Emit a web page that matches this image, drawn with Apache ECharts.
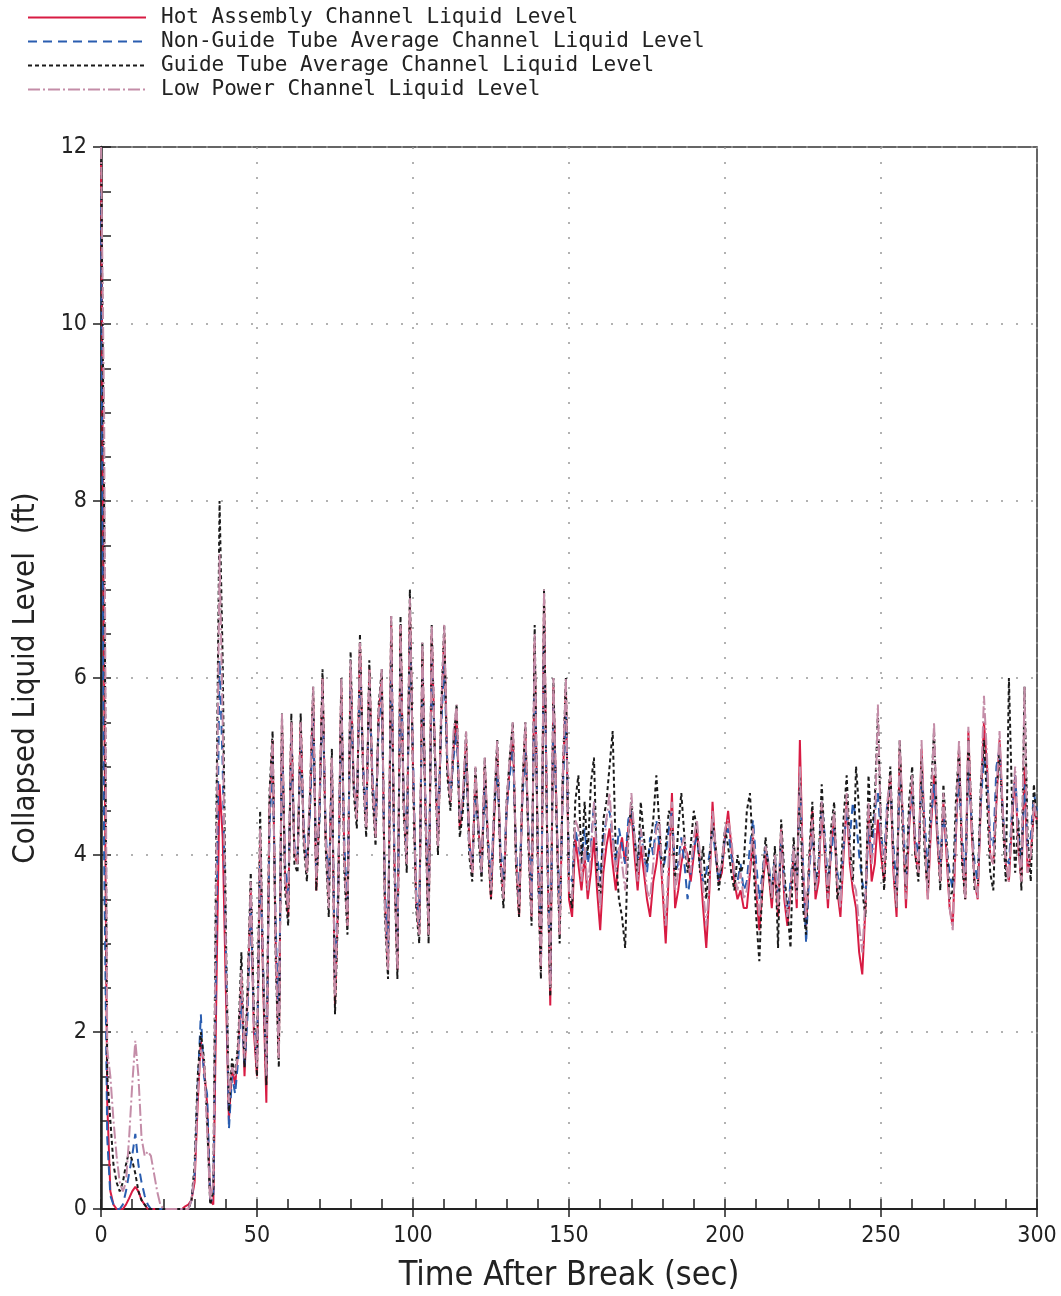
<!DOCTYPE html>
<html>
<head>
<meta charset="utf-8">
<script src="https://cdn.jsdelivr.net/npm/echarts@6/dist/echarts.min.js"></script>
<style>
html,body{margin:0;padding:0;background:#fff;}
#chart{width:1061px;height:1296px;}
</style>
</head>
<body>
<div id="chart"></div>
<script>
// Time after break (sec), one sample per second 0..300
const time = Array.from({length: 301}, (_, i) => i);

const seriesNames = [
  'Hot Assembly Channel Liquid Level',
  'Non-Guide Tube Average Channel Liquid Level',
  'Guide Tube Average Channel Liquid Level',
  'Low Power Channel Liquid Level'
];

const xTicks = [0, 50, 100, 150, 200, 250, 300];
const yTicks = [0, 2, 4, 6, 8, 10, 12];

// Hot Assembly Channel Liquid Level (ft)
const hotLevel = [
11.8,6.0,1.2,0.2,0.05,0,0,0,0.05,0.12,
0.2,0.25,0.2,0.1,0.05,0,0,0,0,0,
0,0,0,0,0,0,0,0.03,0.05,0.1,
0.3,1.2,1.9,1.6,1.2,0.1,0.05,2.5,4.8,4.2,
2.5,1.0,1.6,1.4,1.8,2.6,1.5,2.4,3.6,2.0,
1.5,4.2,2.5,1.2,4.5,5.3,3.0,1.7,5.5,3.8,
3.3,5.5,4.0,3.9,5.5,4.2,3.8,4.6,5.8,3.6,
4.5,6.0,4.2,3.5,5.1,2.3,3.5,5.9,4.0,3.2,
6.1,4.8,4.4,6.4,5.0,4.3,6.1,4.8,4.2,5.6,
6.0,3.5,2.7,6.6,4.0,2.7,6.6,4.6,3.9,6.8,
5.0,3.5,3.1,6.3,4.5,3.1,6.5,5.2,4.1,5.5,
6.5,5.0,4.6,5.2,5.6,4.3,4.6,5.3,4.2,3.8,
4.9,4.3,3.8,5.0,4.2,3.5,4.4,5.2,4.0,3.5,
4.5,5.0,5.4,4.0,3.3,4.6,5.4,4.2,3.3,6.4,
4.0,2.7,6.9,4.2,2.3,5.9,4.5,3.1,4.8,5.9,
3.5,3.3,4.2,3.9,3.6,4.0,3.5,3.8,4.2,3.6,
3.15,3.8,4.1,4.3,3.9,3.6,4.0,4.2,3.9,4.3,
4.5,4.0,3.6,4.1,3.8,3.5,3.3,3.7,3.9,4.2,
3.6,3.0,3.8,4.7,3.4,3.6,3.9,4.1,4.0,3.7,
4.0,4.3,3.9,3.4,2.95,3.6,4.6,4.0,3.7,3.8,
4.2,4.5,4.1,3.7,3.5,3.6,3.4,3.4,3.8,4.2,
3.6,3.15,3.6,4.0,3.8,3.4,3.9,3.3,4.3,3.5,
3.2,3.6,4.0,3.4,5.3,3.8,3.2,3.9,4.5,3.5,
3.7,4.6,4.0,3.4,4.1,4.4,3.6,3.3,4.0,4.6,
3.9,3.6,3.4,2.9,2.65,3.4,4.5,3.7,3.9,4.4,
4.0,3.7,4.5,4.9,3.8,3.3,5.2,4.4,3.4,4.3,
4.8,4.0,3.8,5.2,4.2,3.5,4.3,4.9,4.2,3.7,
4.6,4.0,3.4,3.2,4.2,5.2,4.0,3.5,5.4,4.3,
3.7,3.5,4.6,5.5,5.0,4.0,3.9,4.6,5.3,4.5,
3.9,3.7,4.4,4.9,4.1,3.7,5.0,3.8,4.0,4.5,
4.4
];

// Non-Guide Tube Average Channel Liquid Level (ft)
const nonGuideLevel = [
11.5,4.0,0.8,0.15,0.05,0,0,0.05,0.2,0.4,
0.6,0.85,0.5,0.3,0.15,0.05,0,0,0,0,
0,0,0,0,0,0,0,0,0,0.1,
0.4,1.4,2.2,1.5,1.3,0.1,0.1,3.2,6.2,5.0,
3.0,0.9,1.5,1.3,1.7,2.4,1.6,2.2,3.5,2.1,
1.7,4.0,2.7,1.5,4.3,5.1,3.2,2.0,5.3,3.9,
3.5,5.3,4.1,4.0,5.3,4.3,3.9,4.5,5.6,3.8,
4.4,5.8,4.3,3.6,5.0,2.6,3.6,5.7,4.1,3.4,
5.9,4.8,4.5,6.1,5.0,4.4,5.9,4.9,4.3,5.5,
5.8,3.6,2.9,6.3,4.1,2.9,6.3,4.7,4.0,6.5,
5.1,3.6,3.2,6.1,4.6,3.3,6.2,5.2,4.2,5.4,
6.2,5.0,4.7,5.1,5.4,4.4,4.6,5.1,4.1,3.9,
4.7,4.3,3.8,4.8,4.2,3.7,4.5,5.0,4.1,3.7,
4.5,4.9,5.2,4.1,3.5,4.6,5.2,4.3,3.5,6.2,
4.1,2.9,6.6,4.3,2.6,5.7,4.5,3.3,4.7,5.7,
3.8,3.7,4.3,4.1,3.9,4.3,3.9,4.1,4.6,4.0,
3.7,4.2,4.4,4.5,4.2,3.9,4.3,4.1,3.9,4.4,
4.5,4.2,3.9,4.3,4.0,3.8,4.2,4.0,4.4,4.1,
3.8,4.0,4.3,4.5,3.8,3.9,4.2,3.9,3.5,3.8,
4.1,4.2,3.9,3.7,3.8,4.0,4.3,4.0,3.7,3.9,
4.2,4.3,4.0,3.8,3.7,3.9,3.6,3.7,4.1,4.4,
3.9,3.5,3.8,4.1,3.9,3.6,4.0,3.5,4.2,3.7,
3.3,3.7,4.1,3.6,4.8,3.9,3.0,3.8,4.3,3.7,
3.9,4.6,4.2,3.7,4.0,4.3,3.8,3.6,4.1,4.5,
4.2,4.6,4.4,4.0,3.7,3.5,4.3,4.0,4.5,4.7,
4.2,4.0,4.6,4.8,4.1,3.6,4.9,4.5,3.7,4.4,
4.7,4.2,4.0,4.9,4.4,3.8,4.4,4.8,4.3,3.9,
4.5,4.1,3.8,3.6,4.3,4.9,4.2,3.8,5.0,4.4,
3.9,3.7,4.6,5.1,4.9,4.2,4.1,5.0,5.2,4.5,
4.0,3.9,4.5,4.9,4.3,3.9,4.8,4.1,4.2,4.7,
4.5
];

// Guide Tube Average Channel Liquid Level (ft)
const guideLevel = [
12.0,8.0,1.5,1.0,0.5,0.3,0.2,0.3,0.5,0.65,
0.55,0.4,0.2,0.1,0.05,0,0,0,0,0,
0,0,0,0,0,0,0,0,0,0.1,
0.5,1.5,2.0,1.7,1.0,0.05,0.2,4.5,8.0,6.2,
3.2,1.1,1.7,1.5,1.9,2.9,1.6,2.5,3.8,2.2,
1.5,4.5,2.6,1.4,4.7,5.4,2.8,1.6,5.6,3.6,
3.2,5.6,3.9,3.8,5.6,4.1,3.7,4.7,5.9,3.6,
4.4,6.1,4.1,3.3,5.2,2.2,3.4,6.0,3.8,3.1,
6.3,4.7,4.3,6.5,4.9,4.2,6.2,4.7,4.1,5.7,
6.1,3.3,2.6,6.7,3.9,2.6,6.7,4.5,3.8,7.0,
4.9,3.4,3.0,6.4,4.4,3.0,6.6,5.1,4.0,5.6,
6.6,4.9,4.5,5.3,5.7,4.2,4.5,5.4,4.0,3.7,
5.0,4.2,3.7,5.1,4.1,3.5,4.5,5.3,3.9,3.4,
4.6,5.1,5.5,3.9,3.3,4.7,5.5,4.1,3.2,6.6,
3.9,2.6,7.0,4.1,2.4,6.0,4.4,3.0,4.9,6.0,
3.6,3.4,4.6,4.9,3.9,4.6,4.0,4.8,5.1,3.8,
3.5,4.4,4.6,5.0,5.4,4.0,3.5,3.3,2.95,4.2,
4.6,4.2,3.8,4.6,4.2,3.9,4.1,4.4,4.9,4.3,
3.8,4.1,4.5,4.4,3.7,4.3,4.7,4.2,3.8,4.1,
4.5,4.3,3.8,4.1,3.5,3.9,4.4,4.1,3.6,3.9,
4.3,4.1,3.8,3.6,4.0,3.8,3.9,4.5,4.7,4.0,
3.3,2.8,3.7,4.2,3.8,3.5,4.1,2.95,4.4,3.8,
3.4,2.95,4.2,3.6,4.9,3.4,3.1,4.0,4.6,3.6,
3.9,4.8,4.1,3.5,4.3,4.6,3.5,3.7,4.4,4.9,
4.1,3.7,5.0,4.5,3.6,3.3,4.9,4.2,4.6,5.6,
4.3,3.6,4.4,5.0,3.9,3.4,5.3,4.2,3.6,4.6,
5.0,4.0,3.7,5.1,4.0,3.6,4.7,5.4,4.3,3.6,
4.8,4.2,3.5,3.6,4.6,5.2,3.9,3.5,5.3,4.5,
3.6,3.6,4.8,5.3,4.6,3.8,3.6,4.7,5.2,4.4,
3.7,6.0,4.6,3.8,4.4,3.6,5.9,4.2,3.7,4.8,
4.3
];

// Low Power Channel Liquid Level (ft)
const lowPowerLevel = [
12.0,9.0,1.8,1.5,1.0,0.6,0.3,0.2,0.3,0.8,
1.4,1.9,1.5,0.8,0.6,0.65,0.6,0.4,0.2,0.05,
0,0,0,0,0,0,0,0,0,0.1,
0.4,1.3,1.8,1.7,0.9,0.1,0.3,4.0,7.4,5.5,
3.0,1.2,1.6,1.5,1.8,2.7,1.7,2.4,3.7,2.1,
1.6,4.3,2.7,1.5,4.6,5.3,2.9,1.7,5.6,3.7,
3.4,5.5,4.0,3.9,5.5,4.2,3.8,4.8,5.9,3.7,
4.5,6.0,4.2,3.4,5.1,2.4,3.5,6.0,3.9,3.2,
6.2,4.8,4.4,6.4,5.0,4.3,6.1,4.8,4.2,5.6,
6.1,3.4,2.7,6.7,4.0,2.7,6.6,4.6,3.9,6.9,
5.0,3.5,3.1,6.4,4.5,3.1,6.6,5.2,4.1,5.6,
6.6,5.1,4.6,5.4,5.7,4.4,4.7,5.4,4.1,3.8,
5.0,4.3,3.8,5.1,4.2,3.6,4.6,5.3,4.0,3.5,
4.6,5.1,5.5,4.0,3.4,4.7,5.5,4.2,3.3,6.5,
4.0,2.7,7.0,4.2,2.5,6.0,4.5,3.1,4.9,6.0,
3.6,3.5,4.4,4.3,3.7,4.1,3.6,4.0,4.6,3.9,
3.4,4.0,4.4,4.7,4.2,3.8,4.1,3.9,3.6,4.2,
4.7,4.2,3.7,4.3,4.0,3.6,3.5,3.9,4.3,4.4,
3.7,3.2,4.0,4.6,3.6,3.8,4.1,4.2,3.9,3.8,
4.2,4.4,4.0,3.6,3.2,3.7,4.5,4.1,3.8,3.9,
4.3,4.4,4.2,3.8,3.6,3.8,3.5,3.6,3.9,4.3,
3.7,3.3,3.7,4.1,3.9,3.5,4.0,3.4,4.3,3.6,
3.3,3.6,4.1,3.5,5.0,3.9,3.3,3.9,4.4,3.6,
3.8,4.6,4.1,3.5,4.2,4.5,3.7,3.4,4.1,4.7,
4.0,3.7,3.6,3.2,2.9,3.5,4.6,3.9,4.2,5.7,
4.2,3.8,4.6,4.9,3.9,3.4,5.3,4.4,3.5,4.4,
4.9,4.1,3.8,5.3,4.2,3.5,4.4,5.5,4.3,3.7,
4.7,4.1,3.4,3.15,4.3,5.3,4.1,3.5,5.45,4.4,
3.7,3.5,4.7,5.8,5.1,4.0,3.9,4.7,5.4,4.5,
3.9,3.7,4.5,5.0,4.1,3.7,5.9,3.8,4.0,4.6,
4.4
];

const levels = [hotLevel, nonGuideLevel, guideLevel, lowPowerLevel];
const colors = ['#d81b43', '#2a5db0', '#1a1a1a', '#c48da8'];
const dashes = ['solid', [9, 6], [4, 3], [12, 3, 2, 3]];

const chart = echarts.init(document.getElementById('chart'), null, {renderer: 'canvas'});

const fontNarrow = "'Liberation Sans Narrow', 'DejaVu Sans Condensed', 'Liberation Sans', sans-serif";

const series = levels.map((arr, k) => ({
  name: seriesNames[k],
  type: 'line',
  xAxisIndex: 0,
  yAxisIndex: 0,
  showSymbol: false,
  symbol: 'none',
  animation: false,
  data: arr.map((v, i) => [time[i], v]),
  lineStyle: {color: colors[k], width: 2, type: dashes[k]},
  itemStyle: {color: colors[k]}
}));

const option = {
  backgroundColor: '#fff',
  animation: false,
  legend: {
    show: true,
    orient: 'vertical',
    left: 22,
    top: 2,
    itemWidth: 118,
    itemHeight: 16,
    itemGap: 3,
    itemStyle: {opacity: 0},
    data: seriesNames,
    textStyle: {
      fontFamily: "'DejaVu Sans Mono', monospace",
      fontSize: 21,
      lineHeight: 16,
      color: '#222',
      padding: [0, 0, 0, 10]
    }
  },
  grid: {
    left: 101, right: 24, top: 147, bottom: 87,
    show: true, borderColor: '#333', borderWidth: 1.5,
    containLabel: false,
    outerBoundsMode: 'none'
  },
  xAxis: [
    {
      type: 'value', min: xTicks[0], max: xTicks[xTicks.length - 1], interval: 50,
      name: 'Time After Break (sec)',
      nameLocation: 'middle', nameGap: 50,
      nameTextStyle: {fontSize: 34, fontFamily: fontNarrow, color: '#222'},
      axisLine: {show: true, lineStyle: {color: '#222', width: 2}},
      axisTick: {show: true, inside: false, length: 8, lineStyle: {color: '#222', width: 1.5}},
      axisLabel: {fontSize: 23, fontFamily: fontNarrow, color: '#222', margin: 16},
      splitLine: {show: true, lineStyle: {color: '#999', width: 1.5, type: [2, 13]}}
    },
    {
      type: 'value', min: 0, max: 300, interval: 10, position: 'bottom',
      axisLine: {show: false},
      axisTick: {show: true, inside: true, length: 10, lineStyle: {color: '#222', width: 1.5}},
      axisLabel: {show: false},
      splitLine: {show: false}
    }
  ],
  yAxis: [
    {
      type: 'value', min: yTicks[0], max: yTicks[yTicks.length - 1], interval: 2,
      name: 'Collapsed Liquid Level  (ft)',
      nameLocation: 'middle', nameGap: 60, nameRotate: 90,
      nameTextStyle: {fontSize: 31, fontFamily: fontNarrow, color: '#222'},
      axisLine: {show: true, lineStyle: {color: '#222', width: 2.5}},
      axisTick: {show: true, inside: false, length: 8, lineStyle: {color: '#222', width: 1.5}},
      axisLabel: {fontSize: 23, fontFamily: fontNarrow, color: '#222', margin: 14},
      splitLine: {show: true, lineStyle: {color: '#999', width: 1.5, type: [2, 13]}}
    },
    {
      type: 'value', min: 0, max: 12, interval: 0.5, position: 'left',
      axisLine: {show: false},
      axisTick: {show: true, inside: true, length: 10, lineStyle: {color: '#222', width: 1.5}},
      axisLabel: {show: false},
      splitLine: {show: false}
    }
  ],
  series: series
};

chart.setOption(option);
</script>
</body>
</html>
